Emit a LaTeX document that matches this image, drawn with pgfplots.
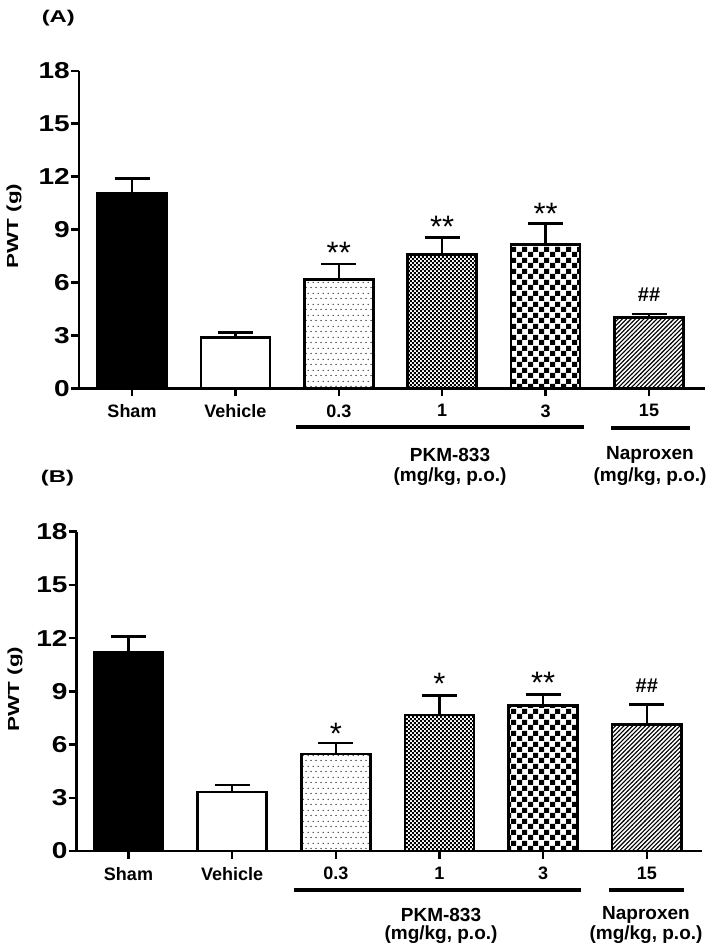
\documentclass[border=0pt]{standalone}
\usepackage{fontspec}
\setmainfont{Liberation Sans}
\newfontfamily\wideA{Liberation Sans}[FakeStretch=1.4]
\newfontfamily\wideT{Liberation Sans}[FakeStretch=1.22]
\usepackage{pgfplots}
\pgfplotsset{compat=1.18}
\usetikzlibrary{patterns}

\pgfdeclarepatternformonly{sparsedots}{\pgfpointorigin}{\pgfqpoint{5pt}{11pt}}{\pgfqpoint{5pt}{11pt}}{%
  \pgfpathcircle{\pgfqpoint{1.25pt}{2.75pt}}{0.75pt}%
  \pgfpathcircle{\pgfqpoint{3.75pt}{8.25pt}}{0.75pt}%
  \pgfusepath{fill}}
\pgfdeclarepatternformonly{finecheck}{\pgfpointorigin}{\pgfqpoint{4.4pt}{4.4pt}}{\pgfqpoint{4.4pt}{4.4pt}}{%
  \pgfpathrectangle{\pgfpointorigin}{\pgfqpoint{2.2pt}{2.2pt}}%
  \pgfpathrectangle{\pgfqpoint{2.2pt}{2.2pt}}{\pgfqpoint{2.2pt}{2.2pt}}%
  \pgfusepath{fill}}
\pgfdeclarepatternformonly{coarsecheck}{\pgfpointorigin}{\pgfqpoint{11pt}{11pt}}{\pgfqpoint{11pt}{11pt}}{%
  \pgfpathrectangle{\pgfpointorigin}{\pgfqpoint{5.5pt}{5.5pt}}%
  \pgfpathrectangle{\pgfqpoint{5.5pt}{5.5pt}}{\pgfqpoint{5.5pt}{5.5pt}}%
  \pgfusepath{fill}}
\pgfdeclarepatternformonly{hatchNE}{\pgfqpoint{-1pt}{-1pt}}{\pgfqpoint{5.3pt}{5.3pt}}{\pgfqpoint{4.3pt}{4.3pt}}{%
  \pgfsetlinewidth{1.1pt}%
  \pgfpathmoveto{\pgfqpoint{-0.2pt}{-0.2pt}}%
  \pgfpathlineto{\pgfqpoint{4.5pt}{4.5pt}}%
  \pgfusepath{stroke}}

\pgfplotsset{
  panel/.style={
    scale only axis,
    anchor=south west,
    ymin=0, ymax=18,
    axis x line=bottom, axis y line=left,
    axis line style={-, line width=2.5pt, black},
    ytick={0,3,...,18},
    yticklabels={0,3,6,9,12,15,18},
    xtick={0,...,5},
    xticklabels={Sham,Vehicle,0.3,1,3,15},
    tick align=outside,
    major tick length=8pt,
    tick style={line width=2.5pt, black},
    yticklabel style={font=\wideT\bfseries\fontsize{23}{23}\selectfont, inner sep=1pt},
    xticklabel style={font=\bfseries\fontsize{18}{18}\selectfont, inner sep=1pt, yshift=-7pt},
  },
  pbar/.style={
    ybar, bar width=0.667, bar shift=0pt, draw=black, line width=2.5pt,
    error bars/y dir=plus, error bars/y explicit,
    error bars/error mark=|,
    error bars/error bar style={line width=2.5pt, draw=black, solid},
    error bars/error mark options={line width=2.5pt, draw=black, mark size=17.5pt},
  },
}

\begin{document}
\begin{tikzpicture}[x=1pt,y=1pt]
\path[use as bounding box] (0,0) rectangle (709,-950);

% ---------------- Panel A ----------------
\begin{axis}[panel, at={(79pt,-388.3pt)}, width=626pt, height=317.5pt,
  xmin=-0.5126, xmax=5.5416]
\addplot[pbar, fill=black] coordinates {(0,11.05) +- (0,0.85)};
\addplot[pbar, fill=white] coordinates {(1,2.89) +- (0,0.26)};
\addplot[pbar, pattern=sparsedots] coordinates {(2,6.18) +- (0,0.88)};
\addplot[pbar, pattern=finecheck] coordinates {(3,7.58) +- (0,0.98)};
\addplot[pbar, pattern=coarsecheck] coordinates {(4,8.16) +- (0,1.17)};
\addplot[pbar, pattern=hatchNE] coordinates {(5,4.02) +- (0,0.20)};
\end{axis}

% ---------------- Panel B ----------------
\begin{axis}[panel, at={(76.7pt,-851pt)}, width=625pt, height=319.3pt,
  xmin=-0.4997, xmax=5.5296]
\addplot[pbar, fill=black] coordinates {(0,11.20) +- (0,0.90)};
\addplot[pbar, fill=white] coordinates {(1,3.34) +- (0,0.37)};
\addplot[pbar, pattern=sparsedots] coordinates {(2,5.47) +- (0,0.63)};
\addplot[pbar, pattern=finecheck] coordinates {(3,7.66) +- (0,1.10)};
\addplot[pbar, pattern=coarsecheck] coordinates {(4,8.19) +- (0,0.63)};
\addplot[pbar, pattern=hatchNE] coordinates {(5,7.14) +- (0,1.12)};
\end{axis}

% panel labels
\node[font=\wideA\bfseries\fontsize{17}{17}\selectfont] at (58.3,-18) {(A)};
\node[font=\wideA\bfseries\fontsize{17}{17}\selectfont] at (57.5,-478.5) {(B)};

% y labels
\node[rotate=90, font=\wideA\bfseries\fontsize{16}{16}\selectfont] at (14,-226) {PWT (g)};
\node[rotate=90, font=\wideA\bfseries\fontsize{16}{16}\selectfont] at (15,-689) {PWT (g)};

% significance marks
\tikzset{ast/.style={anchor=north, inner sep=0pt, font=\fontsize{31}{31}\selectfont},
         hsh/.style={anchor=north, inner sep=0pt, font=\bfseries\fontsize{20}{20}\selectfont}}
\node[ast] at (338.8,-241.7) {**};
\node[ast] at (442.2,-216) {**};
\node[ast] at (545.6,-202.7) {**};
\node[hsh] at (649,-287.3) {\#\#};
\node[ast] at (335.8,-722.7) {*};
\node[ast] at (439.5,-673) {*};
\node[ast] at (543.1,-672) {**};
\node[hsh] at (646.8,-679) {\#\#};

% group lines
\draw[line width=4pt] (296,-426.7) -- (584,-426.7);
\draw[line width=4pt] (611,-427.7) -- (690,-427.7);
\draw[line width=4pt] (294,-890) -- (581,-890);
\draw[line width=4pt] (609,-890) -- (684,-890);

% group texts
\tikzset{grp/.style={font=\bfseries\fontsize{19}{19}\selectfont, inner sep=0pt}}
\node[grp] at (450,-455) {PKM-833};
\node[grp] at (450,-476.7) {(mg/kg, p.o.)};
\node[grp] at (650,-455) {Naproxen};
\node[grp] at (650,-477) {(mg/kg, p.o.)};
\node[grp] at (441,-915) {PKM-833};
\node[grp] at (441,-935) {(mg/kg, p.o.)};
\node[grp] at (646,-915) {Naproxen};
\node[grp] at (646,-935) {(mg/kg, p.o.)};
\end{tikzpicture}
\end{document}
